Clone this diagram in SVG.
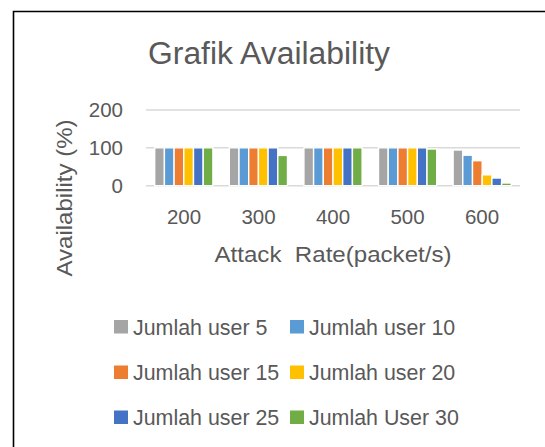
<svg xmlns="http://www.w3.org/2000/svg" width="545" height="447" viewBox="0 0 545 447">
<style>
text{font-family:"Liberation Sans",Arial,sans-serif;fill:#595959}
.grid{stroke:#d9d9d9;stroke-width:1.5}
.bar rect{stroke:#fff;stroke-width:1.4}
.c1{fill:#A5A5A5}.c2{fill:#5B9BD5}.c3{fill:#ED7D31}.c4{fill:#FFC000}.c5{fill:#4472C4}.c6{fill:#70AD47}
.lbl{font-size:20.5px}
.leg{font-size:21.4px}
</style>
<rect width="545" height="447" fill="#fff"/>
<path d="M13.5 447 V11.5 H545" fill="none" stroke="#000" stroke-width="1.6"/>
<text id="title" x="269" y="64" font-size="31" text-anchor="middle" textLength="242" lengthAdjust="spacingAndGlyphs">Grafik Availability</text>
<g id="grid">
<line class="grid" x1="146" y1="110" x2="520" y2="110"/>
<line class="grid" x1="146" y1="147.8" x2="520" y2="147.8"/>
<line class="grid" x1="146" y1="185.7" x2="520" y2="185.7"/>
</g>
<g id="yaxis" class="lbl" text-anchor="end">
<text x="123" y="117">200</text>
<text x="123" y="155">100</text>
<text x="123" y="193">0</text>
</g>
<text id="ytitle" transform="translate(72 198) rotate(-90)" font-size="22" text-anchor="middle" textLength="157" lengthAdjust="spacingAndGlyphs">Availability (%)</text>
<g id="xaxis" class="lbl" text-anchor="middle">
<text x="184" y="223.5">200</text>
<text x="258.5" y="223.5">300</text>
<text x="333" y="223.5">400</text>
<text x="407.5" y="223.5">500</text>
<text x="482" y="223.5">600</text>
</g>
<text id="xtitle" x="333" y="262" font-size="22" text-anchor="middle" style="white-space:pre" textLength="237" lengthAdjust="spacingAndGlyphs">Attack  Rate(packet/s)</text>
<g id="bars" class="bar">
<g id="g200">
<rect class="c1" x="154.7" y="147.8" width="9.7" height="37.9"/>
<rect class="c2" x="164.4" y="147.8" width="9.7" height="37.9"/>
<rect class="c3" x="174.1" y="147.8" width="9.7" height="37.9"/>
<rect class="c4" x="183.8" y="147.8" width="9.7" height="37.9"/>
<rect class="c5" x="193.5" y="147.8" width="9.7" height="37.9"/>
<rect class="c6" x="203.2" y="147.8" width="9.7" height="37.9"/>
</g>
<g id="g300">
<rect class="c1" x="229.3" y="147.8" width="9.7" height="37.9"/>
<rect class="c2" x="239" y="147.8" width="9.7" height="37.9"/>
<rect class="c3" x="248.7" y="147.8" width="9.7" height="37.9"/>
<rect class="c4" x="258.4" y="147.8" width="9.7" height="37.9"/>
<rect class="c5" x="268.1" y="147.8" width="9.7" height="37.9"/>
<rect class="c6" x="277.8" y="155.4" width="9.7" height="30.3"/>
</g>
<g id="g400">
<rect class="c1" x="303.9" y="147.8" width="9.7" height="37.9"/>
<rect class="c2" x="313.6" y="147.8" width="9.7" height="37.9"/>
<rect class="c3" x="323.3" y="147.8" width="9.7" height="37.9"/>
<rect class="c4" x="333" y="147.8" width="9.7" height="37.9"/>
<rect class="c5" x="342.7" y="147.8" width="9.7" height="37.9"/>
<rect class="c6" x="352.4" y="147.8" width="9.7" height="37.9"/>
</g>
<g id="g500">
<rect class="c1" x="378.5" y="147.8" width="9.7" height="37.9"/>
<rect class="c2" x="388.2" y="147.8" width="9.7" height="37.9"/>
<rect class="c3" x="397.9" y="147.8" width="9.7" height="37.9"/>
<rect class="c4" x="407.6" y="147.8" width="9.7" height="37.9"/>
<rect class="c5" x="417.3" y="147.8" width="9.7" height="37.9"/>
<rect class="c6" x="427" y="149" width="9.7" height="36.7"/>
</g>
<g id="g600">
<rect class="c1" x="453.1" y="150" width="9.7" height="35.7"/>
<rect class="c2" x="462.8" y="155.2" width="9.7" height="30.5"/>
<rect class="c3" x="472.5" y="160.7" width="9.7" height="25"/>
<rect class="c4" x="482.2" y="174.8" width="9.7" height="10.9"/>
<rect class="c5" x="491.9" y="178" width="9.7" height="7.7"/>
<rect class="c6" x="501.6" y="183" width="9.7" height="2.7"/>
</g>
</g>
<g id="legend" class="leg">
<g id="leg1"><rect class="c1" x="114" y="320" width="14" height="13.5"/><text x="133" y="334.5">Jumlah user 5</text></g>
<g id="leg2"><rect class="c2" x="290" y="320" width="14" height="13.5"/><text x="309" y="334.5">Jumlah user 10</text></g>
<g id="leg3"><rect class="c3" x="114" y="365.5" width="14" height="13.5"/><text x="133" y="380">Jumlah user 15</text></g>
<g id="leg4"><rect class="c4" x="290" y="365.5" width="14" height="13.5"/><text x="309" y="380">Jumlah user 20</text></g>
<g id="leg5"><rect class="c5" x="114" y="410.5" width="14" height="13.5"/><text x="133" y="425">Jumlah user 25</text></g>
<g id="leg6"><rect class="c6" x="290" y="410.5" width="14" height="13.5"/><text x="309" y="425">Jumlah User 30</text></g>
</g>
</svg>
